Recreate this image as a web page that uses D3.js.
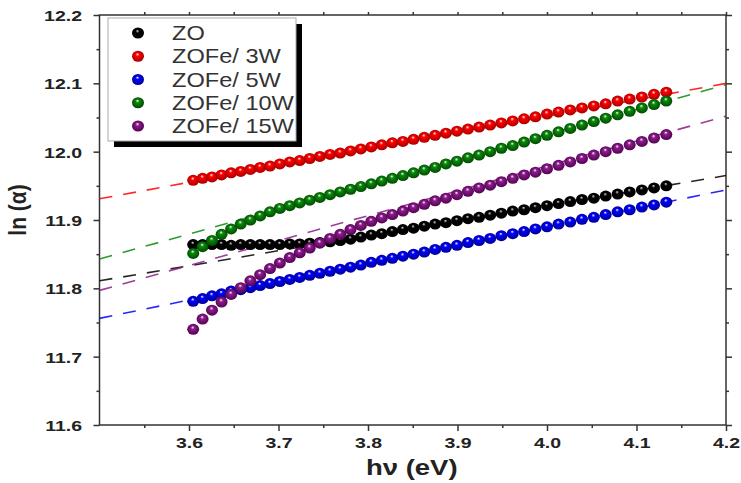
<!DOCTYPE html>
<html>
<head>
<meta charset="utf-8">
<script src="https://cdn.jsdelivr.net/npm/d3@7"></script>
<style>
  body { margin: 0; background: #fff; }
  svg { display: block; }
</style>
</head>
<body>
<script>
// Photon energy of each measured point (eV)
const photonEnergy = [
  3.6047, 3.6152, 3.6257, 3.6364, 3.6471, 3.6578, 3.6686, 3.6795, 3.6905, 3.7015,
  3.7126, 3.7237, 3.7349, 3.7462, 3.7576, 3.7690, 3.7805, 3.7920, 3.8037, 3.8154,
  3.8272, 3.8390, 3.8509, 3.8629, 3.8750, 3.8871, 3.8994, 3.9117, 3.9241, 3.9365,
  3.9490, 3.9617, 3.9744, 3.9871, 4.0000, 4.0129, 4.0260, 4.0391, 4.0523, 4.0656,
  4.0789, 4.0924, 4.1060, 4.1196, 4.1333
];

const seriesNames = ["ZO", "ZOFe/ 3W", "ZOFe/ 5W", "ZOFe/ 10W", "ZOFe/ 15W"];

// ln(alpha) for each sample
const lnAlphaZO = [
  11.864, 11.864, 11.864, 11.864, 11.863, 11.864, 11.864, 11.864, 11.864, 11.864,
  11.865, 11.865, 11.866, 11.867, 11.868, 11.870, 11.872, 11.875, 11.878, 11.880,
  11.883, 11.886, 11.888, 11.891, 11.894, 11.896, 11.899, 11.902, 11.904, 11.907,
  11.910, 11.913, 11.915, 11.918, 11.921, 11.924, 11.927, 11.930, 11.932, 11.935,
  11.938, 11.941, 11.944, 11.947, 11.950
];
const lnAlpha3W = [
  11.958, 11.961, 11.963, 11.966, 11.969, 11.971, 11.974, 11.977, 11.979, 11.982,
  11.985, 11.987, 11.990, 11.993, 11.996, 11.998, 12.001, 12.004, 12.007, 12.010,
  12.013, 12.015, 12.018, 12.021, 12.024, 12.027, 12.030, 12.033, 12.036, 12.039,
  12.042, 12.045, 12.048, 12.051, 12.055, 12.058, 12.061, 12.064, 12.067, 12.070,
  12.074, 12.077, 12.080, 12.084, 12.087
];
const lnAlpha5W = [
  11.781, 11.785, 11.789, 11.792, 11.796, 11.798, 11.801, 11.804, 11.807, 11.810,
  11.813, 11.816, 11.819, 11.822, 11.825, 11.828, 11.831, 11.834, 11.838, 11.841,
  11.844, 11.847, 11.850, 11.853, 11.857, 11.860, 11.863, 11.867, 11.870, 11.873,
  11.877, 11.880, 11.883, 11.887, 11.890, 11.894, 11.897, 11.901, 11.904, 11.908,
  11.912, 11.915, 11.919, 11.922, 11.926
];
const lnAlpha10W = [
  11.851, 11.861, 11.870, 11.879, 11.887, 11.894, 11.900, 11.906, 11.912, 11.917,
  11.921, 11.925, 11.929, 11.933, 11.937, 11.941, 11.945, 11.949, 11.953, 11.957,
  11.961, 11.965, 11.969, 11.973, 11.977, 11.982, 11.986, 11.991, 11.995, 12.000,
  12.005, 12.009, 12.014, 12.019, 12.024, 12.029, 12.034, 12.039, 12.044, 12.049,
  12.054, 12.059, 12.064, 12.069, 12.074
];
const lnAlpha15W = [
  11.740, 11.755, 11.768, 11.780, 11.791, 11.801, 11.811, 11.820, 11.829, 11.837,
  11.845, 11.852, 11.859, 11.866, 11.873, 11.879, 11.886, 11.892, 11.898, 11.903,
  11.908, 11.913, 11.918, 11.923, 11.928, 11.932, 11.937, 11.942, 11.947, 11.951,
  11.956, 11.961, 11.966, 11.970, 11.975, 11.980, 11.985, 11.990, 11.995, 12.000,
  12.005, 12.010, 12.015, 12.020, 12.025
];

// Linear fits (Urbach tails): value at the left and right ends of the energy axis
const fitEnergy = [3.5, 4.2];
const fitStart = [11.811, 11.931, 11.756, 11.843, 11.797];
const fitEnd   = [11.965, 12.100, 11.944, 12.098, 12.052];

const seriesColors = ["#000000", "#ff0000", "#0000ff", "#0a8a0a", "#8c1c8c"];
const darkColors   = ["#000000", "#a00000", "#00008a", "#004400", "#4e004e"];

const xTicks = [3.6, 3.7, 3.8, 3.9, 4.0, 4.1, 4.2];
const xMinorTicks = [3.55, 3.65, 3.75, 3.85, 3.95, 4.05, 4.15];
const yTicks = [11.6, 11.7, 11.8, 11.9, 12.0, 12.1, 12.2];
const yMinorTicks = [11.65, 11.75, 11.85, 11.95, 12.05, 12.15];

const seriesValues = [lnAlphaZO, lnAlpha3W, lnAlpha5W, lnAlpha10W, lnAlpha15W];

const W = 741, H = 483;
const plot = { left: 99.5, right: 726, top: 15, bottom: 425 };

const svg = d3.select("body").append("svg")
  .attr("width", W).attr("height", H)
  .style("font-family", "'Liberation Sans', Arial, sans-serif");

const x = d3.scaleLinear().domain([3.5, 4.2]).range([plot.left, plot.right]);
const y = d3.scaleLinear().domain([11.6, 12.2]).range([plot.bottom, plot.top]);

// Shaded-sphere gradients for the markers
const defs = svg.append("defs");
seriesColors.forEach((c, i) => {
  const g = defs.append("radialGradient").attr("id", "ball" + i)
    .attr("cx", "50%").attr("cy", "50%").attr("r", "55%")
    .attr("fx", "45%").attr("fy", "30%");
  g.append("stop").attr("offset", "0%").attr("stop-color", i === 0 ? "#d8d8d8" : "#ffffff");
  g.append("stop").attr("offset", "28%").attr("stop-color", c);
  g.append("stop").attr("offset", "100%").attr("stop-color", darkColors[i]);
});

// Frame
const axisColor = "#333";
svg.append("rect")
  .attr("x", plot.left).attr("y", plot.top)
  .attr("width", plot.right - plot.left).attr("height", plot.bottom - plot.top)
  .attr("fill", "none").attr("stroke", axisColor).attr("stroke-width", 1.5);

function styleAxis(g) {
  g.select(".domain").remove();
  g.selectAll(".tick line").attr("stroke", axisColor).attr("stroke-width", 1.5);
}

// Bottom axis with labels
const xAxisG = svg.append("g").attr("transform", `translate(0,${plot.bottom})`)
  .call(d3.axisBottom(x).tickValues(xTicks).tickSize(6).tickFormat(d3.format(".1f")))
  .call(styleAxis);
xAxisG.selectAll(".tick text")
  .attr("y", null).attr("dy", null)
  .attr("transform", "translate(0,23) scale(1.3,1)")
  .attr("font-size", 15).attr("font-weight", "bold").attr("fill", "#222")
  .attr("font-family", "'Liberation Sans', Arial, sans-serif");
svg.append("g").attr("transform", `translate(0,${plot.bottom})`)
  .call(d3.axisBottom(x).tickValues(xMinorTicks).tickSize(3).tickFormat(""))
  .call(styleAxis);

// Left axis with labels
const yAxisG = svg.append("g").attr("transform", `translate(${plot.left},0)`)
  .call(d3.axisLeft(y).tickValues(yTicks).tickSize(6).tickFormat(d3.format(".1f")))
  .call(styleAxis);
yAxisG.selectAll(".tick text")
  .attr("x", null).attr("dy", "0.36em")
  .attr("transform", "translate(-17.5,0) scale(1.3,1)")
  .attr("font-size", 15).attr("font-weight", "bold").attr("fill", "#222")
  .attr("font-family", "'Liberation Sans', Arial, sans-serif");
svg.append("g").attr("transform", `translate(${plot.left},0)`)
  .call(d3.axisLeft(y).tickValues(yMinorTicks).tickSize(3).tickFormat(""))
  .call(styleAxis);

// Top and right axes: ticks only
svg.append("g").attr("transform", `translate(0,${plot.top})`)
  .call(d3.axisTop(x).tickValues(xTicks.concat(xMinorTicks)).tickSize(3).tickFormat(""))
  .call(styleAxis);
svg.append("g").attr("transform", `translate(${plot.right},0)`)
  .call(d3.axisRight(y).tickValues(yTicks).tickSize(6).tickFormat(""))
  .call(styleAxis);
svg.append("g").attr("transform", `translate(${plot.right},0)`)
  .call(d3.axisRight(y).tickValues(yMinorTicks).tickSize(3).tickFormat(""))
  .call(styleAxis);

// Axis titles
svg.append("text")
  .attr("transform", `translate(${(plot.left + plot.right) / 2 - 1},475) scale(1.25,1)`)
  .attr("text-anchor", "middle").attr("font-size", 22).attr("font-weight", "bold")
  .attr("fill", "#222").text("hν (eV)");
svg.append("text")
  .attr("transform", "translate(26,210) scale(1.1,1) rotate(-90)")
  .attr("text-anchor", "middle").attr("font-size", 21).attr("font-weight", "bold")
  .attr("fill", "#222").text("ln (α)");

// Fitted dashed lines (drawn under the markers)
const line = d3.line().x(d => x(d[0])).y(d => y(d[1]));
const fitLayer = svg.append("g");
seriesNames.forEach((name, i) => {
  fitLayer.append("path")
    .datum(fitEnergy.map((e, k) => [e, k === 0 ? fitStart[i] : fitEnd[i]]))
    .attr("d", line)
    .attr("fill", "none")
    .attr("stroke", seriesColors[i])
    .attr("stroke-opacity", 0.85)
    .attr("stroke-width", 1.6)
    .attr("stroke-dasharray", "13,11");
});

// Data markers
const markerLayer = svg.append("g");
seriesValues.forEach((vals, i) => {
  markerLayer.append("g").selectAll("ellipse")
    .data(vals.map((v, k) => [photonEnergy[k], v]))
    .join("ellipse")
    .attr("cx", d => x(d[0]))
    .attr("cy", d => y(d[1]))
    .attr("rx", 6).attr("ry", 5.5)
    .attr("fill", `url(#ball${i})`);
});

// Legend with drop shadow
const lg = { x: 108, y: 18, w: 188, h: 123, shadow: 6 };
svg.append("rect").attr("x", lg.x + lg.shadow).attr("y", lg.y + lg.shadow)
  .attr("width", lg.w).attr("height", lg.h).attr("fill", "#000");
svg.append("rect").attr("x", lg.x).attr("y", lg.y)
  .attr("width", lg.w).attr("height", lg.h)
  .attr("fill", "#fff").attr("stroke", "#aaa").attr("stroke-width", 1);
const rowY = d3.scaleLinear().domain([0, 4]).range([33, 126]);
seriesNames.forEach((name, i) => {
  svg.append("ellipse")
    .attr("cx", 138).attr("cy", rowY(i))
    .attr("rx", 6).attr("ry", 5.5)
    .attr("fill", `url(#ball${i})`);
  svg.append("text")
    .attr("transform", `translate(172,${rowY(i) + 7}) scale(1.18,1)`)
    .attr("font-size", 20).attr("fill", "#333")
    .text(name);
});
</script>
</body>
</html>
